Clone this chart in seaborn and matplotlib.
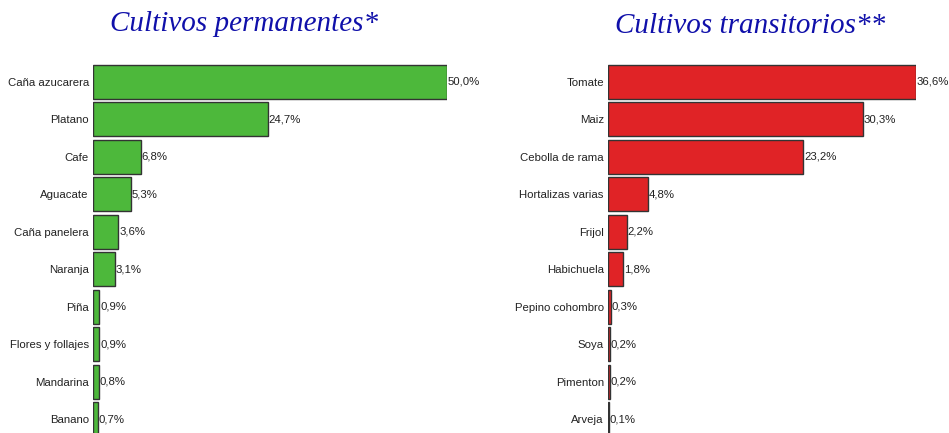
import matplotlib.pyplot as plt
import pandas as pd
import seaborn as sns

# Data
perm_crops = ['Caña azucarera', 'Platano', 'Cafe', 'Aguacate', 'Caña panelera',
              'Naranja', 'Piña', 'Flores y follajes', 'Mandarina', 'Banano']
perm_pct = [50.0, 24.7, 6.8, 5.3, 3.6, 3.1, 0.9, 0.9, 0.8, 0.7]

trans_crops = ['Tomate', 'Maiz', 'Cebolla de rama', 'Hortalizas varias', 'Frijol',
               'Habichuela', 'Pepino cohombro', 'Soya', 'Pimenton', 'Arveja']
trans_pct = [36.6, 30.3, 23.2, 4.8, 2.2, 1.8, 0.3, 0.2, 0.2, 0.1]

sns.set_style('white')
plt.rcParams['font.family'] = ['Liberation Sans Narrow', 'Liberation Sans', 'DejaVu Sans']

fig = plt.figure(figsize=(9.49, 4.33), dpi=100)
W, H = 949, 433
LABEL_SIZE = 8.2


def draw_panel(left_px, width_px, crops, pct, color, xmax):
    ax = fig.add_axes([left_px / W, (H - 438) / H, width_px / W, 375 / H])
    df = pd.DataFrame({'crop': crops, 'pct': pct})
    sns.barplot(data=df, x='pct', y='crop', ax=ax, color=color, width=0.9,
                edgecolor='#333333', linewidth=1, saturation=1)
    ax.set_xlim(0, xmax)
    ax.set_ylim(9.5, -0.5)
    ax.set_xlabel('')
    ax.set_ylabel('')
    ax.set_xticks([])
    for s in ax.spines.values():
        s.set_visible(False)
    ax.tick_params(axis='y', length=0, pad=3, labelsize=LABEL_SIZE, labelcolor='#222222')
    labels = [f'{v:.1f}'.replace('.', ',') + '%' for v in pct]
    ax.bar_label(ax.containers[0], labels=labels, padding=0.5, fontsize=LABEL_SIZE,
                 color='#222222', clip_on=False)
    return ax


draw_panel(93, 354, perm_crops, perm_pct, '#4db83b', 50.0)
draw_panel(608, 308, trans_crops, trans_pct, '#e02326', 36.6)

title_kw = dict(family=['Liberation Serif', 'DejaVu Serif'], style='italic',
                fontsize=21, color='#1010aa', ha='center', va='center')
fig.text(244 / W, 1 - 24 / H, 'Cultivos permanentes*', **title_kw)
fig.text(750 / W, 1 - 26 / H, 'Cultivos transitorios**', **title_kw)

fig.savefig('out.png', dpi=100)
